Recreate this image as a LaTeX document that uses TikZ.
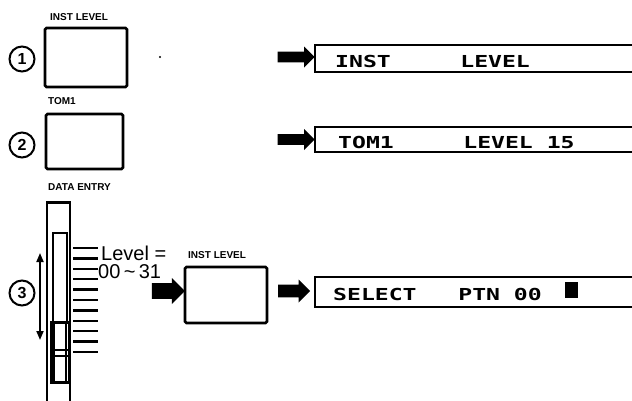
\documentclass[tikz,border=0pt]{standalone}
\usepackage{fontspec}
\setmainfont{Liberation Sans}
\newfontfamily\lcdfont{DejaVu Sans Mono}
\usetikzlibrary{shapes.arrows,arrows.meta}
\begin{document}
\begin{tikzpicture}[x=1pt,y=-1pt,
  btn/.style={draw,line width=2.6pt,rounded corners=1.5pt},
  lbl/.style={font=\bfseries\fontsize{10}{10}\selectfont,inner sep=0pt,anchor=base west},
  num/.style={circle,draw,line width=2pt,minimum size=25pt,inner sep=0pt,font=\bfseries\fontsize{16}{16}\selectfont},
  barrow/.style={single arrow,fill=black,draw=none,inner xsep=0pt,single arrow head extend=5pt},
  lcdbox/.style={line width=2.2pt},
  lcdtext/.style={font=\lcdfont\bfseries\fontsize{16.5}{17}\selectfont,inner sep=0pt,anchor=base west},
  big/.style={font=\fontsize{20}{20}\selectfont,inner sep=0pt,anchor=base west},
  tick/.style={line width=2.4pt},
]
\useasboundingbox (0,0) rectangle (632,400);
% row 1
\node[lbl] (l1) at (50,20) {INST LEVEL};
\draw[btn] (45,28) rectangle (127,87);
\node[num] (n1) at (22,59) {1};
\fill (160,57) circle (1.1pt);
\node[barrow,inner ysep=5pt,minimum height=37pt,minimum width=21pt] (a1) at (293.5,57) {};
\draw[lcdbox] (640,45) -| (315,72) -- (640,72);
\node[lcdtext] (t1) at (335,67) {\scalebox{1.4}[1]{INST~~~~~LEVEL}};
% row 2
\node[lbl] (l2) at (48,104) {TOM1};
\draw[btn] (46,114) rectangle (123,169);
\node[num] (n2) at (22,145) {2};
\node[barrow,inner ysep=5pt,minimum height=37pt,minimum width=21pt] (a2) at (293.5,139.5) {};
\draw[lcdbox] (640,127) -| (315,152) -- (640,152);
\node[lcdtext] (t2) at (338,148) {\scalebox{1.4}[1]{TOM1~~~~~LEVEL~15}};
% row 3 slider
\node[lbl] (l3) at (48,190) {DATA ENTRY};
\draw[line width=1.8pt] (47,402) -- (47,202) -- (70,202) -- (70,402);
\draw[line width=3pt] (47,202) -- (70,202);
\draw[line width=1.5pt] (53,233) rectangle (67,323);
\draw[line width=3pt] (51,322) rectangle (69,382);
\draw[line width=1.2pt] (54,322) -- (54,382) (66,322) -- (66,382);
\draw[line width=1.2pt] (51,350) -- (69,350) (51,356) -- (69,356);
\foreach \i in {0,...,10} \draw[tick] (73,{248+\i*10.4}) -- (98,{248+\i*10.4});
\draw[line width=1.8pt,{Triangle[length=9pt,width=7pt]}-{Triangle[length=9pt,width=7pt]}] (40,253) -- (40,340);
\node[num] (n3) at (22,293) {3};
\node[big] (lev) at (101,260) {Level =};
\node[big] (rng) at (98,278) {00\,\textasciitilde\,31};
\node[barrow,inner ysep=7.5pt,minimum height=33pt,minimum width=26pt] (a3) at (164.5,291) {};
\node[lbl] (l4) at (188,258) {INST LEVEL};
\draw[btn] (185,267) rectangle (267,323);
\node[barrow,inner ysep=6pt,minimum height=32pt,minimum width=23pt] (a4) at (291,291) {};
\draw[lcdbox] (640,277) -| (315,307) -- (640,307);
\node[lcdtext] (t3) at (333,300) {\scalebox{1.4}[1]{SELECT~~~PTN~00}};
\fill (565,282) rectangle (578,298);
\end{tikzpicture}
\end{document}
